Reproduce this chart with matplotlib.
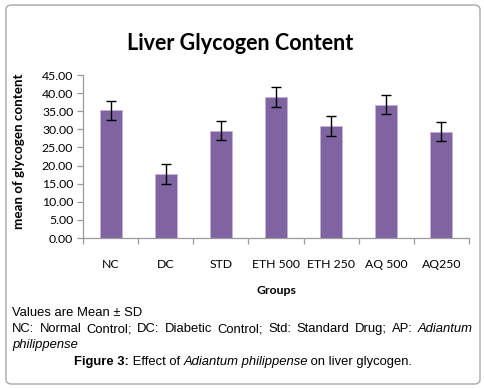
import matplotlib.pyplot as plt
from matplotlib.patches import FancyBboxPatch
from matplotlib.ticker import FixedLocator, NullFormatter

groups = ["NC", "DC", "STD", "ETH 500", "ETH 250", "AQ 500", "AQ250"]
means = [35.2, 17.7, 29.6, 38.9, 30.9, 36.8, 29.3]
sds = [2.6, 2.7, 2.6, 2.7, 2.7, 2.6, 2.6]
y_ticks = [0, 5, 10, 15, 20, 25, 30, 35, 40, 45]

BAR = "#8064a2"
AXIS = "#9a9a9a"
CHART_FONT = ["Lato", "DejaVu Sans"]
CAP = ["Liberation Sans", "DejaVu Sans"]

fig = plt.figure(figsize=(4.85, 3.89), dpi=100)
fig.patch.set_facecolor("white")

# rounded frame round the whole figure
frame = FancyBboxPatch((6 / 485, 5 / 389), 474 / 485, 379 / 389,
                       boxstyle="round,pad=0,rounding_size=0.012",
                       transform=fig.transFigure, facecolor="none",
                       edgecolor="#a8a8a8", linewidth=1.0)
fig.patches.append(frame)

ax = fig.add_axes([83 / 485, 1 - 238 / 389, 386 / 485, 163 / 389])
x = list(range(len(groups)))
ax.bar(x, means, width=0.4, color=BAR, edgecolor="#c3b4d8", linewidth=0.6,
       zorder=2)
ax.errorbar(x, means, yerr=sds, fmt="none", ecolor="black", elinewidth=1.0,
            capsize=3.3, capthick=1.0, zorder=3)

ax.set_xlim(-0.5, len(groups) - 0.5)
ax.set_ylim(0, 45)
ax.set_yticks(y_ticks)
ax.set_yticklabels([f"{v:.2f}" for v in y_ticks], fontsize=8.8,
                   family=CHART_FONT)

# tick marks between categories, labels at the centres
ax.xaxis.set_major_locator(FixedLocator([i - 0.5 for i in range(len(groups) + 1)]))
ax.xaxis.set_major_formatter(NullFormatter())
ax.xaxis.set_minor_locator(FixedLocator(x))
ax.set_xticklabels(groups, minor=True, fontsize=8.8, family=CHART_FONT)
ax.tick_params(axis="x", which="major", length=4, color=AXIS, width=0.9)
ax.tick_params(axis="x", which="minor", length=0, pad=15)
ax.tick_params(axis="y", length=4, color=AXIS, width=0.9, pad=3)

for side in ["top", "right"]:
    ax.spines[side].set_visible(False)
for side in ["left", "bottom"]:
    ax.spines[side].set_color(AXIS)
    ax.spines[side].set_linewidth(0.9)

ax.set_ylabel("mean of glycogen content", fontsize=9.6, fontweight="bold",
              family=CHART_FONT)
ax.yaxis.set_label_coords(-58 / 386, 0.535)
ax.set_xlabel("Groups", fontsize=8.8, fontweight="bold", family=CHART_FONT)
ax.xaxis.set_label_coords(0.5, -47 / 163)

fig.text(240 / 485, 1 - 43 / 389, "Liver Glycogen Content", ha="center",
         va="center", fontsize=15.5, fontweight="bold", family=CHART_FONT)

# caption
fs = 9.4
renderer = fig.canvas.get_renderer()


def text_width(t):
    return t.get_window_extent(renderer).width


fig.text(12 / 485, 1 - 313 / 389, "Values are Mean \u00b1 SD", fontsize=fs,
         family=CAP, va="center")

# justified second line
words = [(w, "normal") for w in
         "NC: Normal Control; DC: Diabetic Control; Std: Standard Drug; AP:".split()]
words.append(("Adiantum", "italic"))
word_texts = [fig.text(0, 1 - 329 / 389, w, fontsize=fs, family=CAP, style=st,
                       va="center") for w, st in words]
word_widths = [text_width(t) for t in word_texts]
gap = (473 - 12 - sum(word_widths)) / (len(words) - 1)
xpos = 12
for t, w in zip(word_texts, word_widths):
    t.set_x(xpos / 485)
    xpos += w + gap

fig.text(12 / 485, 1 - 345 / 389, "philippense", fontsize=fs, family=CAP,
         style="italic", va="center")

# figure line made of pieces, centred as a whole
pieces = [("Figure 3:", "normal", "bold"), (" Effect of ", "normal", "normal"),
          ("Adiantum philippense", "italic", "normal"),
          (" on liver glycogen.", "normal", "normal")]
texts = []
for s, st, wt in pieces:
    t = fig.text(0, 1 - 362 / 389, s, fontsize=fs, family=CAP, style=st,
                 fontweight=wt, va="center")
    texts.append(t)
widths = [text_width(t) - (2 if st == "italic" else 0)
          for t, (s, st, wt) in zip(texts, pieces)]
x0 = 243 - sum(widths) / 2
for t, w in zip(texts, widths):
    t.set_x(x0 / 485)
    x0 += w

fig.savefig("out.png", dpi=100)
